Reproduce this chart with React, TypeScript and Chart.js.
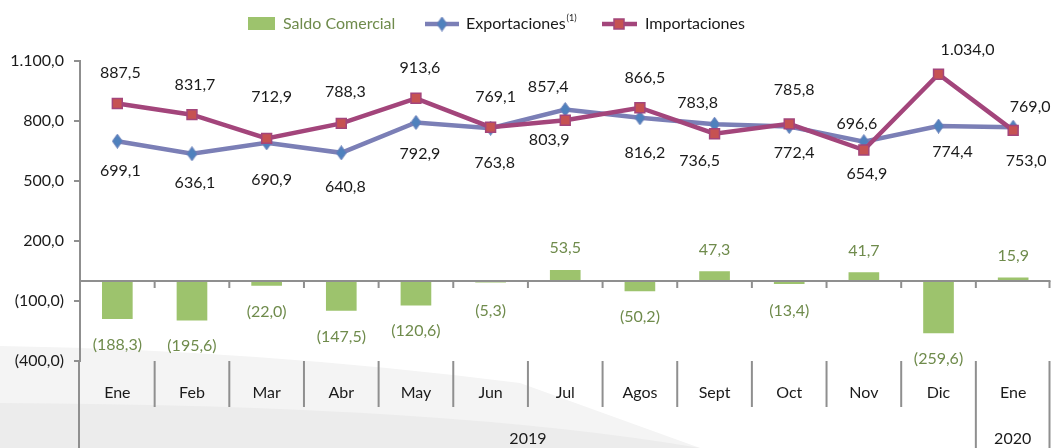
import React, { useEffect, useRef } from "react";
import { Chart, registerables } from "chart.js";

Chart.register(...registerables);

// ---------- data ----------
const months = ["Ene", "Feb", "Mar", "Abr", "May", "Jun", "Jul", "Agos", "Sept", "Oct", "Nov", "Dic", "Ene"];
const yearLabels = ["2019", "2020"];
const yearSpans = [12, 1];
const exportaciones = [699.1, 636.1, 690.9, 640.8, 792.9, 763.8, 857.4, 816.2, 783.8, 772.4, 696.6, 774.4, 769.0];
const importaciones = [887.5, 831.7, 712.9, 788.3, 913.6, 769.1, 803.9, 866.5, 736.5, 785.8, 654.9, 1034.0, 753.0];
const saldo = [-188.3, -195.6, -22.0, -147.5, -120.6, -5.3, 53.5, -50.2, 47.3, -13.4, 41.7, -259.6, 15.9];
const yTicks = [-400, -100, 200, 500, 800, 1100];

// label placement (px) for the upper / lower line labels of each month
const upperGap = [31, 30, 42, 31, 30, 30, 23, 30, 21, 34, 18, 24, 20];
const lowerGap = [30, 29, 37, 34, 31, 35, 20, 35, 27, 26, 24, 26, 30];
const upperShift = [3, 3, 5, 4, 4, 5, -17, 5, -17, 5, -7, 29, 17];
const lowerShift = [3, 3, 5, 4, 4, 4, -16, 5, -15, 5, 3, 14, 13];

// ---------- styles ----------
const FONT = "Lato";
const GREEN = "#9dc36d";
const GREEN_TEXT = "#6f8b4c";
const EXP_LINE = "#7b7fb6";
const EXP_POINT = "#4f81bd";
const IMP_LINE = "#a3457b";
const IMP_POINT = "#c65252";
const AXIS = "#8f8f8f";
const TEXT = "#1a1a1a";

function fmt(v: number): string {
  const neg = v < 0;
  const a = Math.abs(v);
  const parts = a.toFixed(1).split(".");
  const int = parts[0].replace(/\B(?=(\d{3})+(?!\d))/g, ".");
  const s = int + "," + parts[1];
  return neg ? "(" + s + ")" : s;
}

function makeDiamond(): HTMLCanvasElement {
  const c = document.createElement("canvas");
  c.width = 11;
  c.height = 15;
  const g = c.getContext("2d")!;
  g.beginPath();
  g.moveTo(5.5, 0.5);
  g.lineTo(10.5, 7.5);
  g.lineTo(5.5, 14.5);
  g.lineTo(0.5, 7.5);
  g.closePath();
  g.fillStyle = EXP_POINT;
  g.fill();
  g.strokeStyle = "#6c7fba";
  g.lineWidth = 1;
  g.stroke();
  return c;
}

const bgPlugin = {
  id: "bgSwoosh",
  beforeDraw(chart: any) {
    const ctx = chart.ctx;
    const W = chart.width;
    const H = chart.height;
    ctx.save();
    ctx.fillStyle = "#ffffff";
    ctx.fillRect(0, 0, W, H);
    ctx.fillStyle = "#f4f4f4";
    ctx.beginPath();
    ctx.moveTo(0, 346);
    ctx.quadraticCurveTo(260, 350, 520, 383);
    ctx.lineTo(700, H);
    ctx.lineTo(0, H);
    ctx.closePath();
    ctx.fill();
    ctx.fillStyle = "#ececec";
    ctx.beginPath();
    ctx.moveTo(0, 403);
    ctx.quadraticCurveTo(450, 405, 700, H);
    ctx.lineTo(0, H);
    ctx.closePath();
    ctx.fill();
    ctx.restore();
  },
};

const decorPlugin = {
  id: "decor",
  afterDraw(chart: any) {
    const ctx = chart.ctx;
    const area = chart.chartArea;
    const xs = chart.scales.x;
    const ys = chart.scales.y;
    const H = chart.height;
    const n = months.length;
    const bound = (k: number) =>
      k >= n ? area.right - 1 : (xs.getPixelForValue(k - 1) + xs.getPixelForValue(k)) / 2;
    const y0 = ys.getPixelForValue(0);

    ctx.save();
    // zero line with ticks
    ctx.strokeStyle = AXIS;
    ctx.lineWidth = 2;
    ctx.beginPath();
    ctx.moveTo(area.left, y0);
    ctx.lineTo(area.right, y0);
    ctx.stroke();
    for (let k = 1; k <= n; k++) {
      const x = bound(k);
      ctx.beginPath();
      ctx.moveTo(x, y0);
      ctx.lineTo(x, y0 + 7);
      ctx.stroke();
    }

    // left axis extension
    ctx.beginPath();
    ctx.moveTo(area.left - 1, area.bottom);
    ctx.lineTo(area.left - 1, H);
    ctx.stroke();

    // category table
    const tableTop = area.bottom;
    const monthRowBottom = area.bottom + 46;
    const yearEnds: number[] = [];
    let acc = 0;
    for (const s of yearSpans) {
      acc += s;
      yearEnds.push(acc);
    }
    for (let k = 1; k <= n; k++) {
      const x = bound(k);
      const full = yearEnds.indexOf(k) >= 0;
      ctx.beginPath();
      ctx.moveTo(x, tableTop);
      ctx.lineTo(x, full ? H : monthRowBottom);
      ctx.stroke();
    }
    ctx.fillStyle = TEXT;
    ctx.font = `16px ${FONT}`;
    ctx.textAlign = "center";
    ctx.textBaseline = "middle";
    months.forEach((m, i) => {
      ctx.fillText(m, xs.getPixelForValue(i), area.bottom + 32);
    });
    let start = 0;
    yearLabels.forEach((yl, j) => {
      const end = start + yearSpans[j];
      const xa = start === 0 ? area.left : bound(start);
      const xb = bound(end);
      ctx.fillText(yl, (xa + xb) / 2, area.bottom + 78);
      start = end;
    });

    // line labels
    for (let i = 0; i < n; i++) {
      const x = xs.getPixelForValue(i);
      const ye = ys.getPixelForValue(exportaciones[i]);
      const yi = ys.getPixelForValue(importaciones[i]);
      const expHigher = exportaciones[i] >= importaciones[i];
      const hiY = expHigher ? ye : yi;
      const loY = expHigher ? yi : ye;
      const hiV = expHigher ? exportaciones[i] : importaciones[i];
      const loV = expHigher ? importaciones[i] : exportaciones[i];
      ctx.fillText(fmt(hiV), x + upperShift[i], hiY - upperGap[i]);
      ctx.fillText(fmt(loV), x + lowerShift[i], loY + lowerGap[i]);
    }

    // balance labels
    ctx.fillStyle = GREEN_TEXT;
    for (let i = 0; i < n; i++) {
      const x = xs.getPixelForValue(i);
      const yv = ys.getPixelForValue(saldo[i]);
      if (saldo[i] < 0) {
        ctx.fillText(fmt(saldo[i]), x, Math.max(yv + 26, y0 + 30));
      } else {
        ctx.fillText(fmt(saldo[i]), x, yv - 22);
      }
    }

    // legend
    const ly = 24;
    ctx.fillStyle = GREEN;
    ctx.fillRect(248, 17, 27, 13);
    ctx.fillStyle = GREEN_TEXT;
    ctx.textAlign = "left";
    ctx.font = `16px ${FONT}`;
    ctx.fillText(chart.data.datasets[2].label, 283, ly);

    ctx.strokeStyle = EXP_LINE;
    ctx.lineWidth = 4.5;
    ctx.beginPath();
    ctx.moveTo(425, ly);
    ctx.lineTo(459, ly);
    ctx.stroke();
    const d = (chart as any).$diamond as HTMLCanvasElement;
    if (d) ctx.drawImage(d, 442 - d.width / 2, ly - d.height / 2);
    ctx.fillStyle = TEXT;
    const expLabel = chart.data.datasets[1].label;
    ctx.fillText(expLabel, 466, ly);
    const w = ctx.measureText(expLabel).width;
    ctx.font = `9px ${FONT}`;
    ctx.fillText("(1)", 466 + w + 1, ly - 6);

    ctx.strokeStyle = IMP_LINE;
    ctx.lineWidth = 4.5;
    ctx.beginPath();
    ctx.moveTo(602, ly);
    ctx.lineTo(637, ly);
    ctx.stroke();
    ctx.fillStyle = IMP_POINT;
    ctx.strokeStyle = IMP_LINE;
    ctx.lineWidth = 1.5;
    ctx.fillRect(614, ly - 5, 10, 10);
    ctx.strokeRect(614, ly - 5, 10, 10);
    ctx.fillStyle = TEXT;
    ctx.font = `16px ${FONT}`;
    ctx.fillText(chart.data.datasets[0].label, 645, ly);

    ctx.restore();
  },
};

export default function App() {
  const ref = useRef<HTMLCanvasElement | null>(null);

  useEffect(() => {
    if (!ref.current) return;
    const diamond = makeDiamond();
    const chart = new Chart(ref.current, {
      type: "bar",
      data: {
        labels: months,
        datasets: [
          {
            type: "line",
            label: "Importaciones",
            data: importaciones,
            borderColor: IMP_LINE,
            borderWidth: 4.5,
            pointStyle: "rect",
            pointRadius: 7,
            pointBackgroundColor: IMP_POINT,
            pointBorderColor: IMP_LINE,
            pointBorderWidth: 1.5,
            tension: 0,
            order: 0,
          } as any,
          {
            type: "line",
            label: "Exportaciones",
            data: exportaciones,
            borderColor: EXP_LINE,
            borderWidth: 4.5,
            pointStyle: diamond,
            pointRadius: 7,
            tension: 0,
            order: 1,
          } as any,
          {
            type: "bar",
            label: "Saldo Comercial",
            data: saldo,
            backgroundColor: GREEN,
            barThickness: 30,
            order: 2,
          } as any,
        ],
      },
      options: {
        animation: false,
        responsive: false,
        maintainAspectRatio: false,
        layout: { padding: { top: 61, bottom: 87, left: 0, right: 0 } },
        plugins: { legend: { display: false }, tooltip: { enabled: false } },
        scales: {
          x: { type: "category", display: false, offset: true },
          y: {
            min: yTicks[0],
            max: yTicks[yTicks.length - 1],
            afterFit: (s: any) => {
              s.width = 80;
            },
            ticks: {
              stepSize: yTicks[1] - yTicks[0],
              callback: (v: any) => fmt(Number(v)),
              font: { family: FONT, size: 16 },
              color: TEXT,
              padding: 10,
            },
            grid: { drawOnChartArea: false, drawTicks: true, tickLength: 6, color: AXIS, lineWidth: 2 },
            border: { display: true, color: AXIS, width: 2 },
          },
        },
      } as any,
      plugins: [bgPlugin, decorPlugin],
    });
    (chart as any).$diamond = diamond;
    chart.draw();
    return () => chart.destroy();
  }, []);

  return (
    <div style={{ position: "fixed", left: 0, top: 0, width: 1062, height: 448, background: "#fff" }}>
      <canvas ref={ref} width={1062} height={448} style={{ display: "block" }} />
    </div>
  );
}
